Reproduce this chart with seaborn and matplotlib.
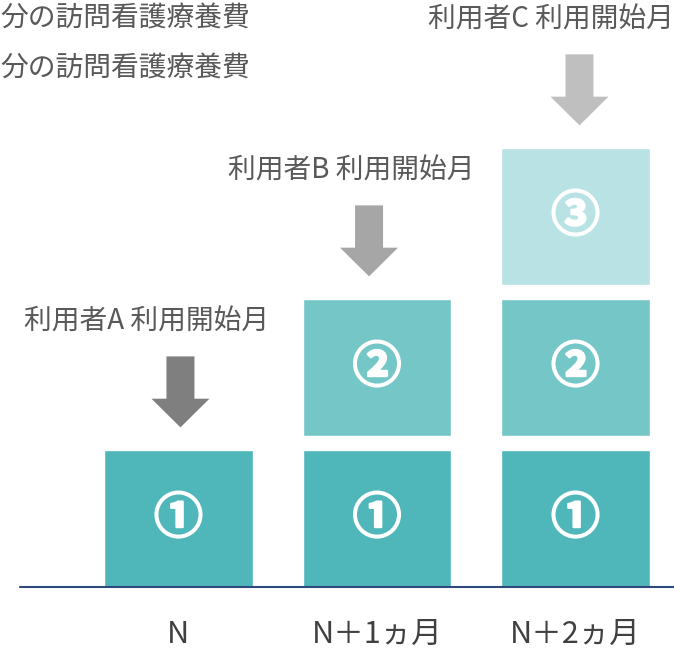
import numpy as np
import pandas as pd
import seaborn as sns
import matplotlib.pyplot as plt
import matplotlib.patheffects as pe

# data
months = ["N", "N＋1ヵ月", "N＋2ヵ月"]
users = ["A", "B", "C"]
start_month = [0, 1, 2]          # index of the month each user starts
marks = ["①", "②", "③"]
notes = ["分の訪問看護療養費", "分の訪問看護療養費"]

box_colors = ["#4fb7ba", "#74c6c7", "#b9e2e4"]
arrow_colors = ["#7f7f7f", "#a6a6a6", "#bfbfbf"]
text_color = "#595959"

rows = []
for m, month in enumerate(months):
    for level, s in enumerate(start_month):
        if s <= m:
            rows.append({"month": month, "level": level, "h": 0.907})
df = pd.DataFrame(rows)

sns.set_theme(style="white")
plt.rcParams['font.family'] = ['Noto Sans CJK JP', 'DejaVu Sans']

fig = plt.figure(figsize=(6.74, 6.5), dpi=100)
ax = fig.add_axes([0, 0, 1, 1])

for level in range(len(users)):
    sub = df[df["level"] == level]
    sns.barplot(data=sub, x="month", y="h", order=months, color=box_colors[level],
                saturation=1, width=0.75, bottom=level, errorbar=None, ax=ax)
    for _, r in sub.iterrows():
        ax.text(months.index(r["month"]), level + 0.907 / 2, marks[level],
                ha="center", va="center", color="white", fontsize=35,
                fontweight="bold",
                path_effects=[pe.withStroke(linewidth=1.6, foreground="white")])

# arrows + labels over each user's first month
label_shift = [-0.16, -0.13, -0.125]
arrow_shift = [0.01, -0.04, 0.02]
for k, (u, s) in enumerate(zip(users, start_month)):
    top = k + 0.907
    xa = s + arrow_shift[k]
    ax.arrow(xa, top + 0.62, 0, -0.47, width=0.141, head_width=0.292,
             head_length=0.19, length_includes_head=True,
             color=arrow_colors[k], linewidth=0)
    ax.text(s + label_shift[k], top + 0.85, f"利用者{u} 利用開始月", ha="center",
            va="center", fontsize=20, color=text_color)

for i, t in enumerate(notes):
    ax.text(-0.895, 3.77 - i * 0.33, t, ha="left", va="center",
            fontsize=20, color=text_color)

for i, m in enumerate(months):
    ax.text(i, -0.315, m, ha="center", va="center", fontsize=22,
            color="#404040")

ax.axhline(0, xmin=20 / 674, xmax=1, color="#2f4a7a", linewidth=1.5)

ax.set_xlim(-0.899, 2.496)
ax.set_ylim(-0.417, 3.887)
ax.axis("off")

fig.savefig("out.png", dpi=100)
